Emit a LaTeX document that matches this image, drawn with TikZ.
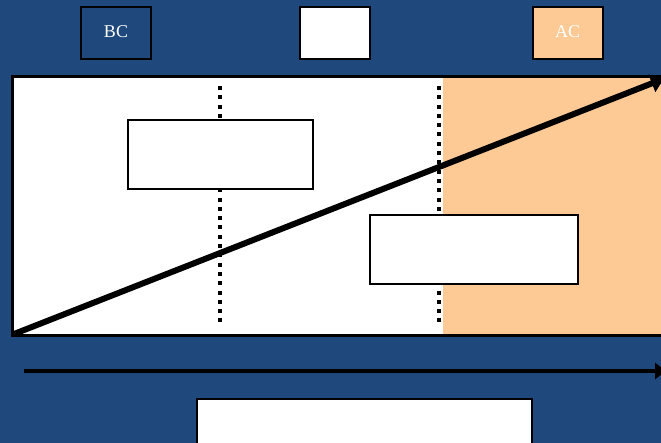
\documentclass[tikz,border=0pt]{standalone}
\usepackage{fontspec}
\setmainfont{Liberation Serif}
\usetikzlibrary{arrows.meta}
\definecolor{bgblue}{RGB}{31,73,125}
\definecolor{peach}{RGB}{253,202,150}
\tikzset{
  topbox/.style={draw=black, line width=2pt, minimum width=70pt, minimum height=52pt, inner sep=0pt, text=white, font=\fontsize{18}{20}\selectfont},
  whitebox/.style={draw=black, line width=2pt, fill=white, inner sep=0pt},
  dotline/.style={line width=4pt, dash pattern=on 4pt off 5.3pt},
  bigarrow/.style={line width=6pt, -{Triangle[length=13pt,width=18pt]}},
  timearrow/.style={line width=4pt, -{Triangle[length=11pt,width=16pt]}}
}
\begin{document}
\begin{tikzpicture}[x=1pt,y=-1pt]
\useasboundingbox (0,0) rectangle (661,443);
\fill[bgblue] (0,0) rectangle (661,443);
% main panel
\fill[white] (12,77) rectangle (443,336);
\fill[peach] (443,77) rectangle (670,336);
\draw[line width=3pt] (670,77) -- (12,77) -- (12,336) -- (670,336);
% dotted lines
\coordinate (d1t) at (220,86); \coordinate (d1b) at (220,324);
\coordinate (d2t) at (439,86); \coordinate (d2b) at (439,324);
\draw[dotline] (d1t) -- (d1b);
\draw[dotline] (d2t) -- (d2b);
% boxes
\node[whitebox, minimum width=185pt, minimum height=69pt] (b1) at (220.5,154.5) {};
\node[whitebox, minimum width=208pt, minimum height=69pt] (b2) at (474,249.5) {};
% diagonal arrow
\coordinate (as) at (14,334);
\coordinate (ae) at (664,78.6);
\draw[bigarrow] (as) -- (ae);
% top boxes
\node[topbox, fill=bgblue] (bc) at (116,33) {\raisebox{3pt}{BC}};
\node[topbox, fill=white] (mid) at (335,33) {};
\node[topbox, fill=peach] (ac) at (567.5,33) {\raisebox{3pt}{AC}};
% time arrow
\coordinate (ts) at (24,371);
\coordinate (te) at (666,371);
\draw[timearrow] (ts) -- (te);
% bottom box
\node[whitebox, minimum width=335pt, minimum height=60pt, anchor=north] (bottom) at (364.5,398) {};
\end{tikzpicture}
\end{document}
